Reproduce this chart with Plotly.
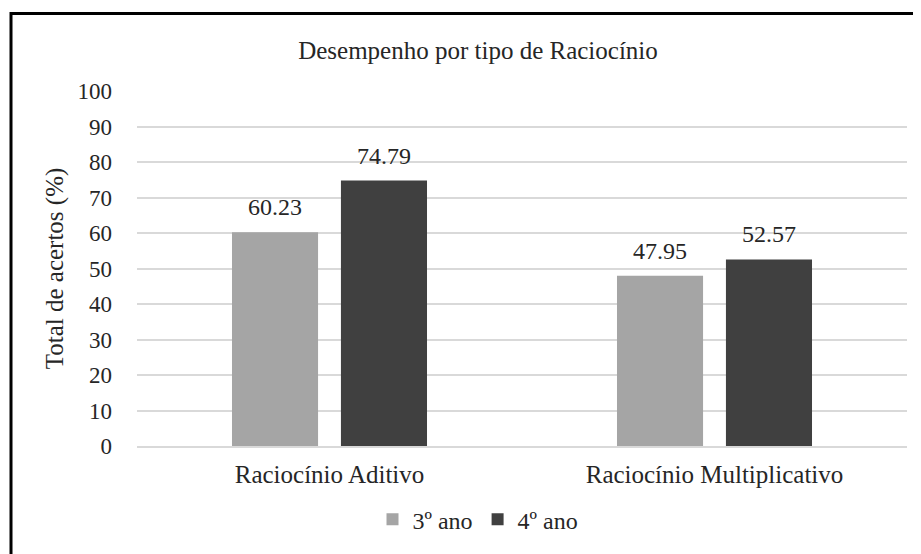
import plotly.graph_objects as go

categories = ["Raciocínio Aditivo", "Raciocínio Multiplicativo"]
series_names = ["3º ano", "4º ano"]
values_3 = [60.23, 47.95]
values_4 = [74.79, 52.57]
colors = ["#A5A5A5", "#404040"]
y_ticks = [0, 10, 20, 30, 40, 50, 60, 70, 80, 90, 100]

FONT = "Liberation Serif"
TXT = "#262626"
FS = 25

fig = go.Figure()
for name, vals, col in zip(series_names, [values_3, values_4], colors):
    fig.add_trace(go.Bar(
        x=categories, y=vals, name=name, marker=dict(color=col, line=dict(width=0)),
        offsetgroup=name,
    ))
for name, vals in zip(series_names, [values_3, values_4]):
    fig.add_trace(go.Scatter(
        x=categories, y=vals, mode="markers+text", showlegend=False, hoverinfo="skip",
        marker=dict(size=16, opacity=0), offsetgroup=name,
        text=[f"{v:.2f}" for v in vals], textposition="top center",
        textfont=dict(family=FONT, size=24, color=TXT), cliponaxis=False,
    ))

# page body has an 8px margin, so figure coords = screen coords - 8
OFF = 8
W, H = 921 - OFF, 554 - OFF
L, T = 137 - OFF, 91 - OFF
pw, ph = 770, 357
R = W - L - pw
B = H - T - ph

fig.update_layout(
    width=W, height=H,
    margin=dict(l=L, r=R, t=T, b=B),
    paper_bgcolor="white", plot_bgcolor="white",
    barmode="group", bargap=0.434, bargroupgap=0.21,
    scattermode="group", scattergap=0.434,
    font=dict(family=FONT, size=FS, color=TXT),
    title=dict(text="Desempenho por tipo de Raciocínio", x=(478 - 137) / pw, xref="paper",
               xanchor="center", y=1 - (50 - OFF) / H, yanchor="middle",
               font=dict(family=FONT, size=FS, color=TXT)),
    showlegend=True,
    legend=dict(orientation="h", x=(478 - 137) / pw, xanchor="center", y=-(522 - 448) / ph,
                yanchor="middle", font=dict(family=FONT, size=24, color=TXT),
                itemwidth=30, traceorder="normal"),
    xaxis=dict(showgrid=False, showline=True, linecolor="#D9D9D9", linewidth=2,
               ticks="", tickfont=dict(family=FONT, size=FS, color=TXT), ticklabelstandoff=5),
    yaxis=dict(range=[0, 100], tickvals=y_ticks, showgrid=True, gridcolor="#D9D9D9",
               gridwidth=2, zeroline=False, showline=False, ticks="",
               tickfont=dict(family=FONT, size=23, color=TXT), ticklabelstandoff=24,
               title=dict(text="Total de acertos (%)", standoff=6,
                          font=dict(family=FONT, size=FS, color=TXT))),
    shapes=[dict(type="rect", xref="paper", yref="paper",
                 x0=(11 - 137) / pw, x1=1.2, y0=-0.6, y1=(448 - 13) / ph,
                 line=dict(color="black", width=3), fillcolor="rgba(0,0,0,0)", layer="above")],
)

fig.write_html("out.html")
